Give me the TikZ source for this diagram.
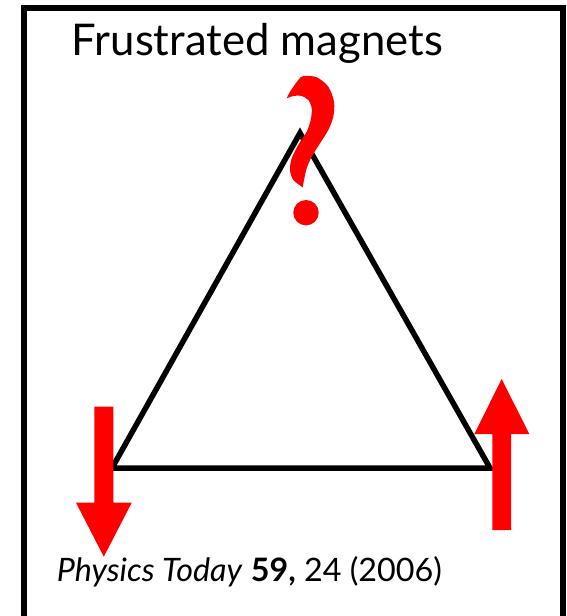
\documentclass[tikz,border=0pt]{standalone}
\usepackage{fontspec}
\setmainfont{Lato}
\usepackage{graphicx}
\tikzset{
  edgeline/.style={draw=black, line width=5.5pt, line join=miter},
  spinarrow/.style={fill=red, draw=none},
  framebox/.style={draw=black, line width=6pt},
  textlabel/.style={anchor=base west, inner sep=0pt, text=black}
}
\begin{document}
\begin{tikzpicture}[x=1pt,y=-1pt]
\useasboundingbox (0,0) rectangle (567,616);
\fill[white] (0,0) rectangle (567,616);
% frame
\begin{scope}
\clip (0,0) rectangle (567,616);
\draw[framebox] (23.5,8) rectangle (563,618.5);
\end{scope}
% title
\node[textlabel] (title) at (71.7,55) {\resizebox{371pt}{!}{\fontsize{42}{50}\selectfont Frustrated magnets}};
% triangle
\coordinate (apex) at (300,133);
\coordinate (br) at (490,468);
\coordinate (bl) at (112,468);
\draw[edgeline] (apex) -- (br) -- (bl) -- cycle;
% down spin
\fill[spinarrow] (94.3,406.7) -- (113.3,406.7) -- (113.3,502.7) -- (131.7,502.7) -- (103.8,556.7) -- (76,502.7) -- (94.3,502.7) -- cycle;
% up spin
\fill[spinarrow] (492.3,530) -- (511,530) -- (511,434) -- (529.3,434) -- (501.7,379) -- (474.3,434) -- (492.3,434) -- cycle;
% question mark
\fill[spinarrow] plot[smooth] coordinates {(286.7,98.3) (290,91.7) (298.3,80) (303.3,76) (316.7,77.3) (328.3,86.7) (334,101.7) (333.3,116.7) (328.3,130) (320,143.3) (311.7,156.7) (306.7,168.3) (304,180) (302.7,187.3)}
  -- plot[smooth] coordinates {(302.7,187.3) (293.3,180) (290,170) (291.7,158.3) (298.3,145) (306.7,131.7) (310.7,120) (311.7,108.3) (308.3,100) (301.7,96) (293.3,96) (286.7,98.3)} -- cycle;
\fill[spinarrow] (306,212.7) circle (12.7);
% citation
\node[textlabel] (cite) at (56.7,581) {\resizebox{385pt}{!}{\fontsize{29}{34}\selectfont\textit{Physics Today} \textbf{59,} 24 (2006)}};
\end{tikzpicture}
\end{document}
